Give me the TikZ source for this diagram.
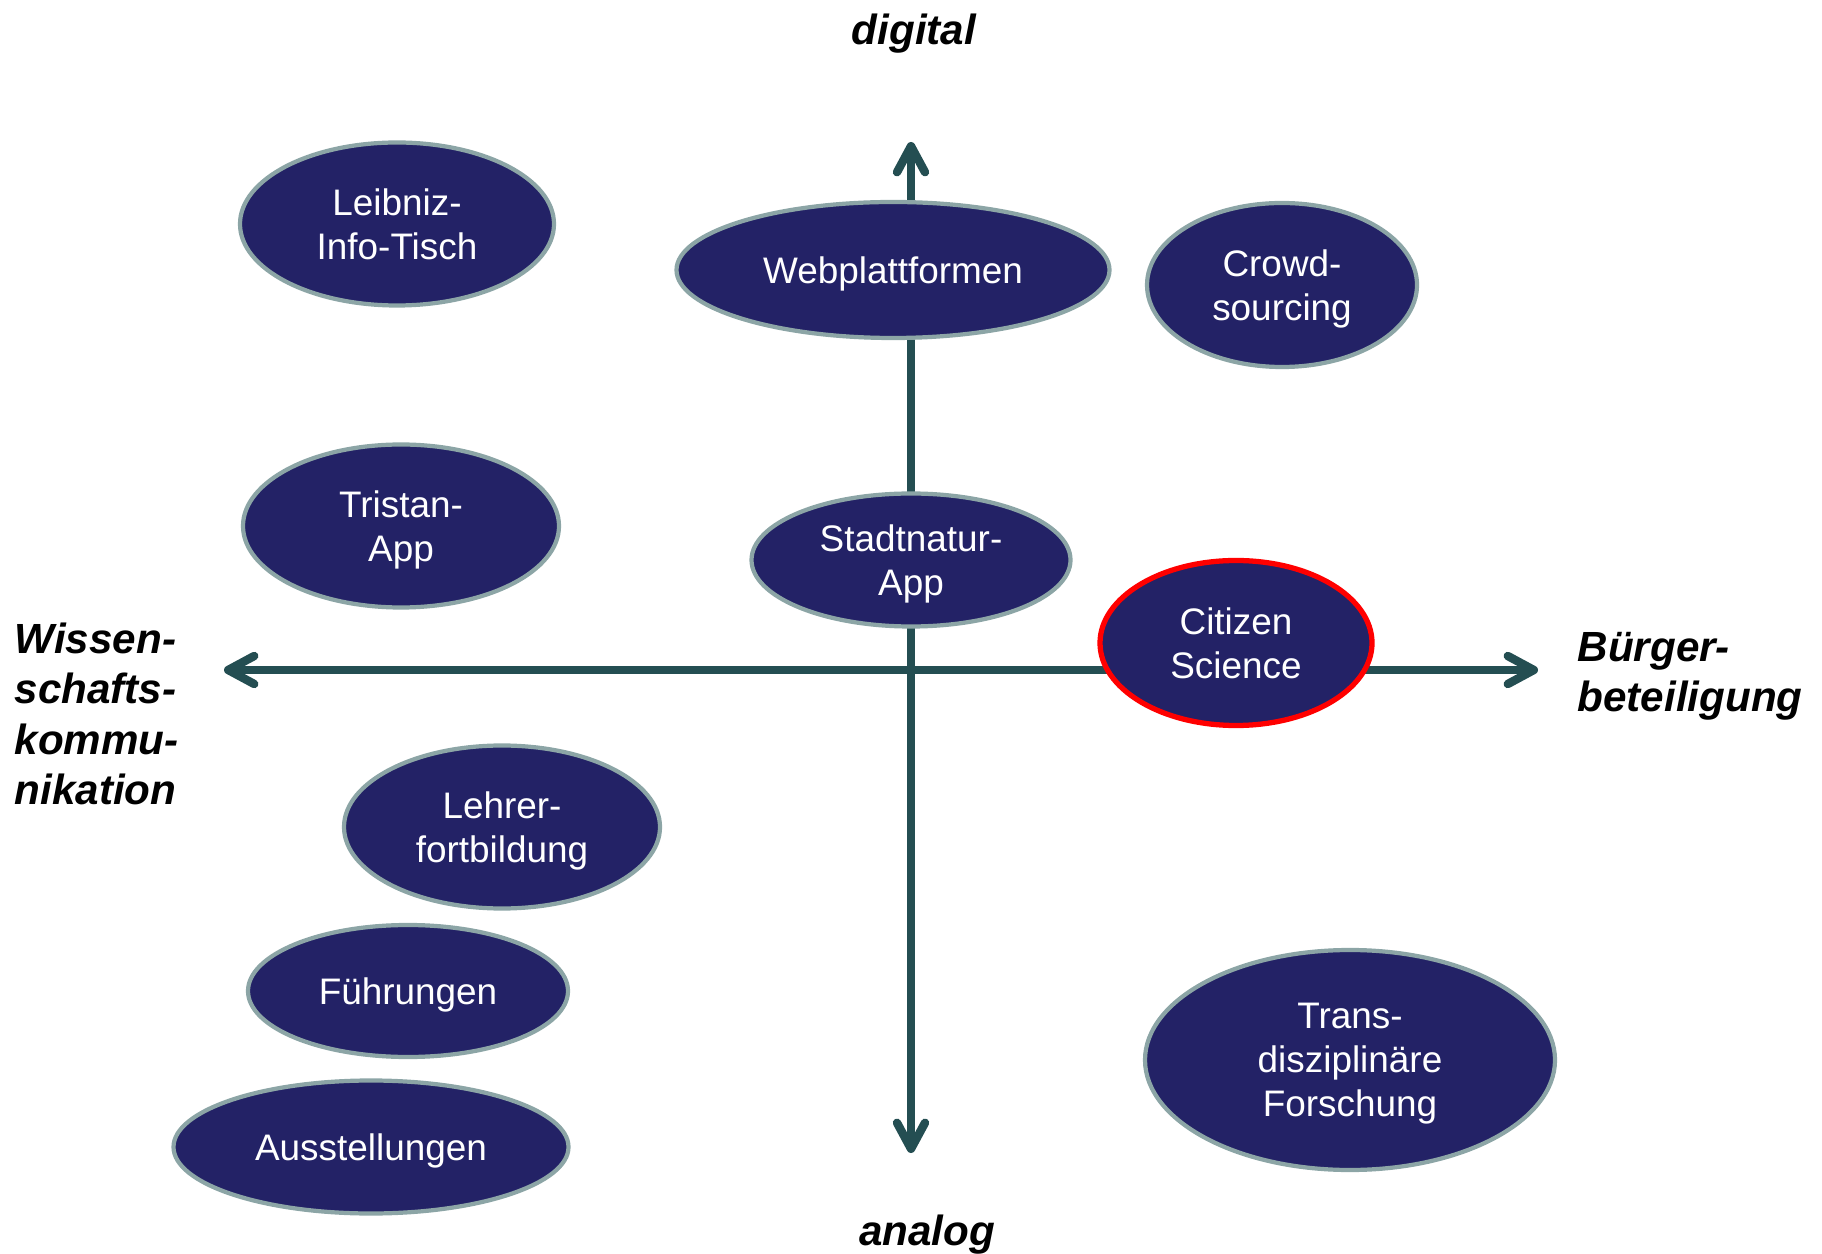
\documentclass[tikz,border=0pt]{standalone}
\usepackage{fontspec}
\setmainfont{Liberation Sans}
\usepackage{xcolor}
\usepackage{tikz}
\usetikzlibrary{arrows.meta}
\usetikzlibrary{shapes.geometric}

\definecolor{navy}{RGB}{35,34,102}
\definecolor{rimgray}{RGB}{140,165,166}
\definecolor{axisgreen}{RGB}{36,78,82}
\definecolor{rimred}{RGB}{255,0,0}

\begin{document}
\begin{tikzpicture}[
  blob/.style={ellipse, fill=navy, draw=rimgray, line width=1.2pt, inner sep=0pt, text depth=0pt, align=center, text=white, font=\fontsize{10.5}{12.5}\selectfont},
  axis/.style={line width=2.4pt, draw=axisgreen, line cap=round, >={Straight Barb[length=2.6mm,width=2.8mm,round]}},
  pole/.style={inner sep=0pt, font=\fontsize{12}{14.3}\selectfont\bfseries\itshape}
]
\useasboundingbox (0,0) rectangle (18.22,-12.54);

% axes
\coordinate (top) at (9.11,-1.42);
\coordinate (bottom) at (9.11,-11.53);
\coordinate (left) at (2.24,-6.70);
\coordinate (right) at (15.38,-6.70);
\draw [axis, <->] (bottom) -- (top);
\draw [axis, <->] (left) -- (right);

\node [pole, anchor=base] (digital) at (9.14,-0.45) {digital};
\node [pole, anchor=base] (analog) at (9.27,-12.45) {analog};
\node [pole, anchor=west, align=left] (wisskom) at (0.14,-7.14) {Wissen-\\schafts-\\kommu-\\nikation};
\node [pole, anchor=west, align=left] (buerger) at (15.77,-6.76) {Bürger-\\beteiligung};

% formats
\node [blob, minimum width=3.14cm, minimum height=1.63cm] (leibniz) at (3.97,-2.24) {Leibniz-\\Info-Tisch};
\node [blob, minimum width=4.33cm, minimum height=1.36cm] (web) at (8.93,-2.70) {Webplattformen};
\node [blob, minimum width=2.70cm, minimum height=1.64cm] (crowd) at (12.82,-2.85) {Crowd-\\sourcing};
\node [blob, minimum width=3.16cm, minimum height=1.63cm] (tristan) at (4.01,-5.26) {Tristan-\\App};
\node [blob, minimum width=3.19cm, minimum height=1.33cm] (stadt) at (9.11,-5.60) {Stadtnatur-\\App};
\node [blob, draw=rimred, line width=1.5pt, minimum width=2.72cm, minimum height=1.65cm] (citizen) at (12.36,-6.43) {Citizen\\Science};
\node [blob, minimum width=3.16cm, minimum height=1.63cm] (lehrer) at (5.02,-8.27) {Lehrer-\\fortbildung};
\node [blob, minimum width=3.20cm, minimum height=1.32cm] (fuehr) at (4.08,-9.91) {Führungen};
\node [blob, minimum width=3.95cm, minimum height=1.33cm] (ausst) at (3.71,-11.47) {Ausstellungen};
\node [blob, minimum width=4.10cm, minimum height=2.20cm] (trans) at (13.50,-10.60) {Trans-\\disziplinäre\\Forschung};
\end{tikzpicture}
\end{document}
